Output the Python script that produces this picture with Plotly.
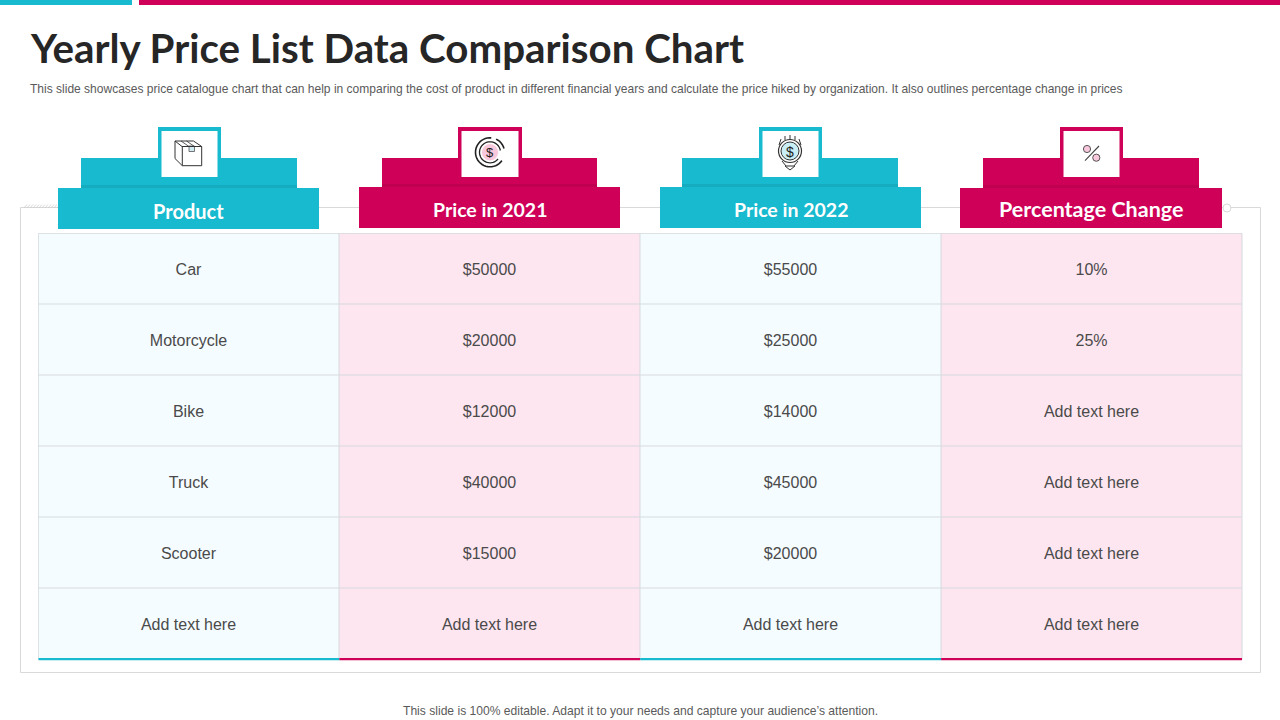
import math
import plotly.graph_objects as go

# ---------- content ----------
title = "Yearly Price List Data Comparison Chart"
subtitle = ("This slide showcases price catalogue chart that can help in comparing the cost of product in different "
            "financial years and calculate the price hiked by organization. It also outlines percentage change in prices")
footer = "This slide is 100% editable. Adapt it to your needs and capture your audience\u2019s attention."
headers = ["Product", "Price in 2021", "Price in 2022", "Percentage Change"]
products = ["Car", "Motorcycle", "Bike", "Truck", "Scooter", "Add text here"]
price_2021 = ["$50000", "$20000", "$12000", "$40000", "$15000", "Add text here"]
price_2022 = ["$55000", "$25000", "$14000", "$45000", "$20000", "Add text here"]
pct_change = ["10%", "25%", "Add text here", "Add text here", "Add text here", "Add text here"]

# ---------- style ----------
TEAL, PINK = "#17BACE", "#CE0058"
TEAL_L, PINK_L = "#F5FCFF", "#FDE6F0"
GRID, FRAME = "#D6DADD", "#D9D9D9"
INK, BODY = "#262626", "#4A4A4A"
TITLE_FONT = "Lato, 'Liberation Sans', sans-serif"
BODY_FONT = "'Liberation Sans', Arial, sans-serif"
W, H = 1280, 720
TX0, TX1, TY0, TY1 = 38.5, 1242, 233.5, 659.5
col_colors = [TEAL, PINK, TEAL, PINK]
band_x = [(81, 297), (382, 597), (682, 898), (983, 1199)]
ribbon_x = [(58, 319), (359, 620), (660, 921), (960, 1222)]
ribbon_y = [(188, 229), (187, 228), (187, 228), (188, 228)]
box_x = [(158, 221), (458, 522), (759, 822), (1060, 1123)]
label_y = [211, 209, 209, 209]
label_size = [20, 19.5, 19.5, 21.5]

shapes, notes = [], []


def rect(x0, y0, x1, y1, fill, line=None, lw=0, layer="above"):
    shapes.append(dict(type="rect", xref="x", yref="y", x0=x0, y0=y0, x1=x1, y1=y1, fillcolor=fill,
                       line=dict(color=line or fill, width=lw), layer=layer))


def seg(x0, y0, x1, y1, color="#333333", w=1.0, layer="above"):
    shapes.append(dict(type="line", xref="x", yref="y", x0=x0, y0=y0, x1=x1, y1=y1,
                       line=dict(color=color, width=w), layer=layer))


def circle(cx, cy, r, fill="rgba(0,0,0,0)", line="#333333", lw=1.0, layer="above"):
    shapes.append(dict(type="circle", xref="x", yref="y", x0=cx - r, y0=cy - r, x1=cx + r, y1=cy + r,
                       fillcolor=fill, line=dict(color=line, width=lw), layer=layer))


def path(d, color="#333333", w=1.0, fill="rgba(0,0,0,0)"):
    shapes.append(dict(type="path", xref="x", yref="y", path=d, fillcolor=fill,
                       line=dict(color=color, width=w), layer="above"))


def arc(cx, cy, r, a0, a1, color="#222222", w=1.2):
    # polyline arc; angles in degrees, measured clockwise from east on screen
    n = max(6, int(abs(a1 - a0) / 8))
    pts = []
    for k in range(n + 1):
        a = math.radians(a0 + (a1 - a0) * k / n)
        pts.append(f"{cx + r * math.cos(a):.2f},{cy + r * math.sin(a):.2f}")
    path("M" + " L".join(pts), color, w)


def text(x, y, s, size, color, font=BODY_FONT, xanchor="center"):
    notes.append(dict(xref="x", yref="y", x=x, y=y, text=s, showarrow=False, xanchor=xanchor, yanchor="middle",
                      font=dict(family=font, size=size, color=color)))


# top bars
rect(0, 0, 132, 5, TEAL)
rect(139, 0, W, 5, PINK)

# outer frame and table backing, below the heat map
rect(20.5, 207.5, 1260.5, 672.5, "white", FRAME, 1, "below")
rect(TX0, TY0, TX1, TY1, GRID, GRID, 1, "below")
for hx in range(24, 58, 3):
    seg(hx, 208, hx + 3, 204.5, "#C8C8C8", 0.7)
circle(1227, 208, 4, "white", "#D9D9D9", 1)

# bottom coloured rule under each column
col_w = (TX1 - TX0) / len(headers)
for i, c in enumerate(col_colors):
    rect(TX0 + i * col_w, 658, TX0 + (i + 1) * col_w, 660.3, c)

# ribbons
for i, c in enumerate(col_colors):
    rect(band_x[i][0], 158, band_x[i][1], ribbon_y[i][0], c)
    rect(band_x[i][0], ribbon_y[i][0] - 3, band_x[i][1], ribbon_y[i][0], "rgba(0,0,0,0.07)")
    rect(ribbon_x[i][0], ribbon_y[i][0], ribbon_x[i][1], ribbon_y[i][1], c)
    rect(box_x[i][0], 127, box_x[i][1], 180, c)
    rect(box_x[i][0] + 3.5, 131, box_x[i][1] - 3.5, 177, "white")
    text(sum(ribbon_x[i]) / 2, label_y[i], f"<b>{headers[i]}</b>", label_size[i], "white", TITLE_FONT)

# box icon
rect(189, 146, 194.5, 151.5, "#CFEAF0", "#555555", 0.8)
path("M175,141 L182,146.5 L201.7,146.5 L201.7,165.7 L182.3,165.7 L175,158.5 Z", w=1)
path("M175,141 L193.5,141 L201.7,146.5", w=1)
seg(182.3, 146.5, 182.3, 165.7)
seg(181, 141, 189, 146.5, w=0.8)
seg(186.5, 141, 194.5, 146.5, w=0.8)

# coin icon
circle(490, 152.3, 8, "#F8C8DC", "#F8C8DC", 0.5)
arc(490, 152.3, 14.5, -85, -325, w=1.6)
arc(490, 152.3, 14.5, -65, -15, w=1.6)
arc(490, 152.3, 10.5, -90, -320, w=1.3)
arc(490, 152.3, 10.5, -90, -10, w=1.3)
text(490, 152.8, "$", 13, "#222222", BODY_FONT)

# shield icon
circle(790, 151, 9, "#C9EEF5", "#333333", 1)
circle(790, 151, 11.5, "rgba(0,0,0,0)", "#333333", 1.2)
path("M779,145 L781,139 M801,145 L799,139 M785,140 L785,136 M795,140 L795,136 M790,139 L790,135", w=1)
path("M782,161 L786,166 L794,166 L798,161 M785,166 L790,170 L795,166", w=1)
text(790, 151.5, "$", 14, "#222222", BODY_FONT)

# percent icon
circle(1087, 149, 3.6, "#F8C8DC", "#444444", 0.9)
circle(1096.3, 157.7, 3.6, "#F8C8DC", "#444444", 0.9)
seg(1099, 146, 1085, 160.7, "#444444", 1.1)

# headings
text(28, 47, f"<b>{title}</b>", 40.3, INK, TITLE_FONT, "left")
text(28, 88.5, subtitle, 12.03, "#5A5A5A", BODY_FONT, "left")
text(640.5, 711, footer, 12.1, "#5A5A5A", BODY_FONT)

cells = [products, price_2021, price_2022, pct_change]
rows_text = [list(r) for r in zip(*cells)]
col_index = [[0, 1, 0, 1] for _ in products]

fig = go.Figure()
fig.add_trace(go.Scatter(x=[0, W], y=[0, H], mode="markers", marker=dict(opacity=0), hoverinfo="skip",
                         showlegend=False, xaxis="x", yaxis="y"))
fig.add_trace(go.Heatmap(z=col_index, x=headers, y=products, text=rows_text, texttemplate="%{text}",
                         textfont=dict(family=BODY_FONT, size=16, color=BODY),
                         colorscale=[[0, TEAL_L], [1, PINK_L]], zmin=0, zmax=1, showscale=False,
                         xgap=1, ygap=1, hoverinfo="skip", xaxis="x2", yaxis="y2"))

fig.update_layout(
    width=W, height=H, margin=dict(l=0, r=0, t=0, b=0), paper_bgcolor="white", plot_bgcolor="rgba(0,0,0,0)",
    showlegend=False, shapes=shapes, annotations=notes,
    xaxis=dict(range=[0, W], visible=False, domain=[0, 1], fixedrange=True),
    yaxis=dict(range=[H, 0], visible=False, domain=[0, 1], fixedrange=True),
    xaxis2=dict(domain=[TX0 / W, TX1 / W], anchor="y2", visible=False, type="category", fixedrange=True),
    yaxis2=dict(domain=[1 - TY1 / H, 1 - TY0 / H], anchor="x2", visible=False, type="category",
                autorange="reversed", fixedrange=True),
)
fig.write_html("out.html", config=dict(displayModeBar=False),
               post_script="document.body.style.margin='0';document.documentElement.style.overflow='hidden';")
